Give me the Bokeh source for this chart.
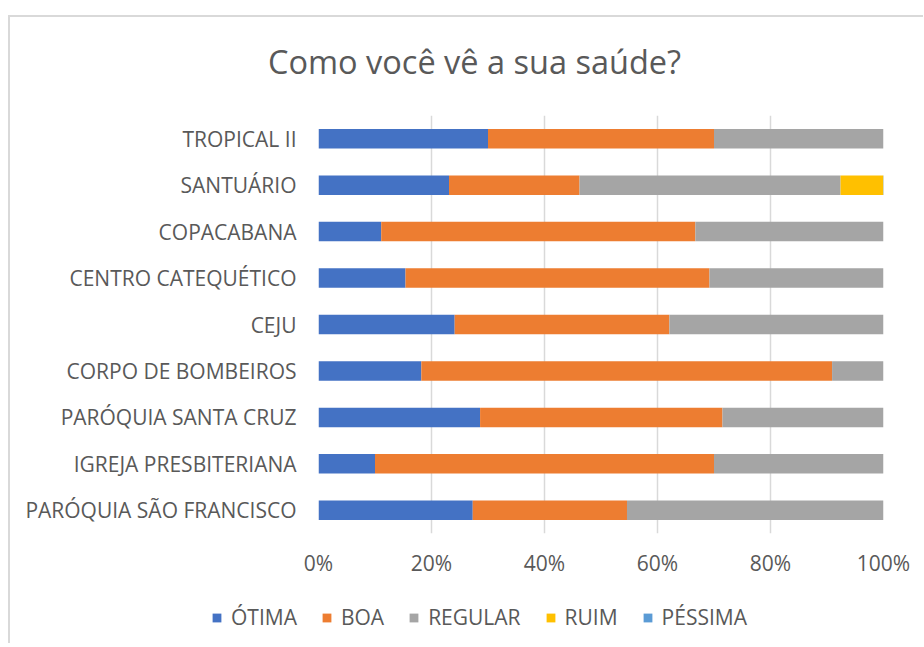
from bokeh.plotting import figure
from bokeh.layouts import column
from bokeh.models import (ColumnDataSource, FactorRange, Range1d, FixedTicker,
                          PrintfTickFormatter, Legend, LegendItem, Label)
from bokeh.embed import file_html
from bokeh.resources import INLINE

# ---- data (top-to-bottom as shown in the chart) ----
categories = ["TROPICAL II", "SANTUÁRIO", "COPACABANA", "CENTRO CATEQUÉTICO", "CEJU",
              "CORPO DE BOMBEIROS", "PARÓQUIA SANTA CRUZ", "IGREJA PRESBITERIANA",
              "PARÓQUIA SÃO FRANCISCO"]
otima   = [30.0, 23.1, 11.1, 15.4, 24.1, 18.2, 28.6, 10.0, 27.3]
boa     = [40.0, 23.1, 55.6, 53.8, 38.0, 72.7, 42.9, 60.0, 27.3]
regular = [30.0, 46.2, 33.3, 30.8, 37.9,  9.1, 28.5, 30.0, 45.4]
ruim    = [ 0.0,  7.7,  0.0,  0.0,  0.0,  0.0,  0.0,  0.0,  0.0]
pessima = [ 0.0,  0.0,  0.0,  0.0,  0.0,  0.0,  0.0,  0.0,  0.0]
series = ["ÓTIMA", "BOA", "REGULAR", "RUIM", "PÉSSIMA"]
colors = ["#4472C4", "#ED7D31", "#A5A5A5", "#FFC000", "#5B9BD5"]
x_ticks = [0, 20, 40, 60, 80, 100]
title_text = "Como você vê a sua saúde?"

FONT = "Open Sans"
TXT = "#595959"
W = 913

source = ColumnDataSource(dict(cat=categories, **{
    "ÓTIMA": otima, "BOA": boa, "REGULAR": regular, "RUIM": ruim, "PÉSSIMA": pessima}))


def strip(height):
    f = figure(width=W, height=height, output_backend="svg", toolbar_location=None,
               x_range=Range1d(0, W), y_range=Range1d(0, height),
               min_border_left=0, min_border_right=0, min_border_top=0, min_border_bottom=0)
    f.axis.visible = False
    f.grid.visible = False
    f.outline_line_color = None
    f.border_fill_color = "white"
    f.frame_align = False
    return f


# ---- title strip ----
ts = strip(98)
ts.add_layout(Label(x=464, y=54, text=title_text, text_align="center", text_baseline="middle",
                    text_font=FONT, text_font_size="32.5px", text_color=TXT))

# ---- main chart ----
p = figure(width=W, height=483, output_backend="svg", toolbar_location=None,
           y_range=FactorRange(*list(reversed(categories))),
           x_range=Range1d(0, 100),
           min_border_left=308, min_border_right=40, min_border_top=0,
           min_border_bottom=65)
p.frame_align = False
p.outline_line_color = None
p.background_fill_color = "white"
p.border_fill_color = "white"

p.hbar_stack(series, y="cat", height=0.42, source=source, color=colors, line_color=None)

p.xaxis.ticker = FixedTicker(ticks=x_ticks)
p.xaxis.formatter = PrintfTickFormatter(format="%d%%")
for ax in (p.xaxis, p.yaxis):
    ax.axis_line_color = None
    ax.major_tick_line_color = None
    ax.minor_tick_line_color = None
    ax.major_label_text_font = FONT
    ax.major_label_text_font_size = "21px"
    ax.major_label_text_color = TXT
p.xaxis.major_label_standoff = 9
p.yaxis.major_label_standoff = 16

p.ygrid.grid_line_color = None
p.xgrid.grid_line_color = "#D9D9D9"
p.xgrid.grid_line_width = 1.5

# ---- legend strip (same series, bars kept out of view) ----
lg = figure(width=W, height=45, output_backend="svg", toolbar_location=None,
            y_range=FactorRange(*list(reversed(categories))),
            x_range=Range1d(-1000, -900),
            min_border_left=0, min_border_right=0, min_border_top=0, min_border_bottom=0)
lg.axis.visible = False
lg.grid.visible = False
lg.outline_line_color = None
lg.border_fill_color = "white"
lg.frame_align = False
lg_renderers = lg.hbar_stack(series, y="cat", height=0.42, source=source, color=colors,
                             line_color=None)
legend = Legend(items=[LegendItem(label=s, renderers=[r]) for s, r in zip(series, lg_renderers)],
                orientation="horizontal", location=(201, 12),
                glyph_width=11, glyph_height=11, label_standoff=9, spacing=24,
                padding=0, margin=0, border_line_color=None, background_fill_alpha=0,
                label_text_font=FONT, label_text_font_size="21px", label_text_color=TXT)
lg.add_layout(legend, "center")

layout = column(ts, p, lg, margin=(15, 0, 0, 8),
                styles={"border-left": "2px solid #D9D9D9", "border-top": "2px solid #D9D9D9"})

open("out.html", "w").write(file_html(layout, INLINE))
